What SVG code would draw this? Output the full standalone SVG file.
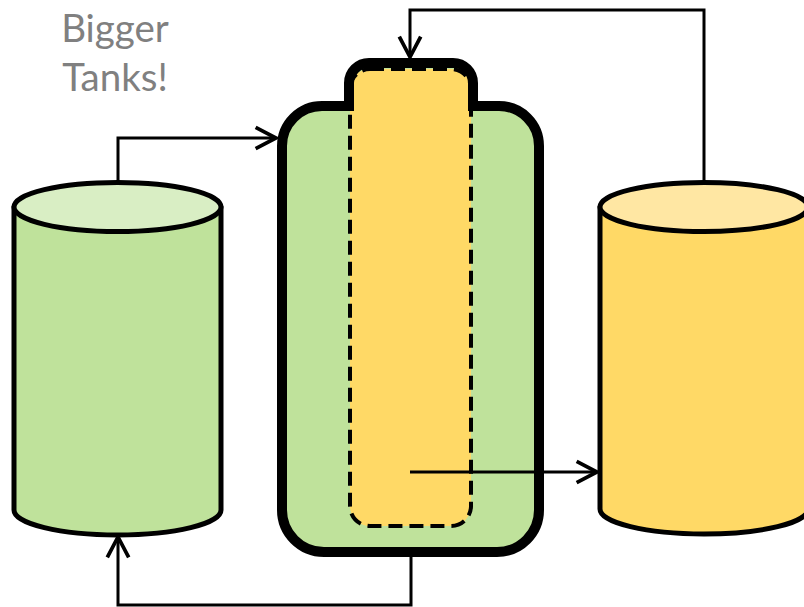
<svg xmlns="http://www.w3.org/2000/svg" width="804" height="607" viewBox="0 0 804 607">
  <style>
    .tank { stroke: #000; stroke-width: 5; stroke-linejoin: round; }
    .green { fill: #BFE29B; }
    .green-top { fill: #D9EEC4; }
    .yellow { fill: #FFD966; }
    .yellow-top { fill: #FFE7A3; }
    .flow { fill: none; stroke: #000; stroke-width: 3; marker-end: url(#chev); }
    .label { font-family: Lato, "Open Sans", "Liberation Sans", sans-serif; font-size: 38.5px; fill: #808080; }
  </style>
  <defs>
    <marker id="chev" markerUnits="userSpaceOnUse" markerWidth="30" markerHeight="30" viewBox="-24 -14 28 28" refX="0" refY="0" orient="auto" overflow="visible">
      <path d="M -19 -10 L 0 0 L -19 10" fill="none" stroke="#000" stroke-width="3.5" stroke-linejoin="miter"/>
    </marker>
  </defs>

  <rect width="804" height="607" fill="#fff"/>

  <g id="caption">
    <text class="label" x="115" y="42" text-anchor="middle">Bigger</text>
    <text class="label" x="115" y="91" text-anchor="middle">Tanks!</text>
  </g>

  <!-- left storage tank -->
  <g id="tank-left">
    <path class="tank green" d="M 14 207 L 14 510 A 103.5 25 0 0 0 221 510 L 221 207 Z"/>
    <ellipse class="tank green-top" cx="117.5" cy="207" rx="103.5" ry="24.5"/>
  </g>

  <!-- right storage tank -->
  <g id="tank-right">
    <path class="tank yellow" d="M 600 207 L 600 509 A 104 25 0 0 0 808 509 L 808 207 Z"/>
    <ellipse class="tank yellow-top" cx="704" cy="207" rx="104" ry="24.5"/>
  </g>

  <!-- central cell with inner chamber -->
  <g id="cell">
    <path class="green" d="M 282 146 A 40 40 0 0 1 322 106 L 349 106 L 349 83 A 20 20 0 0 1 369 63 L 453 63 A 20 20 0 0 1 473 83 L 473 106 L 499 106 A 40 40 0 0 1 539 146 L 539 510 A 42 42 0 0 1 497 552 L 324 552 A 42 42 0 0 1 282 510 Z"/>
    <rect id="chamber" x="350" y="69" width="121" height="457" rx="20" ry="20" class="yellow" stroke="#000" stroke-width="4" stroke-dasharray="14 7"/>
    <path fill="none" stroke="#000" stroke-width="10" stroke-linejoin="miter" d="M 282 146 A 40 40 0 0 1 322 106 L 349 106 L 349 83 A 20 20 0 0 1 369 63 L 453 63 A 20 20 0 0 1 473 83 L 473 106 L 499 106 A 40 40 0 0 1 539 146 L 539 510 A 42 42 0 0 1 497 552 L 324 552 A 42 42 0 0 1 282 510 Z"/>
  </g>

  <g id="connectors">
    <path class="flow" d="M 118 182 L 118 138 L 276 138"/>
    <path class="flow" d="M 704 182 L 704 10 L 410 10 L 410 57"/>
    <path class="flow" d="M 410 472 L 597 472"/>
    <path class="flow" d="M 411 557 L 411 605 L 118 605 L 118 537"/>
  </g>
</svg>
